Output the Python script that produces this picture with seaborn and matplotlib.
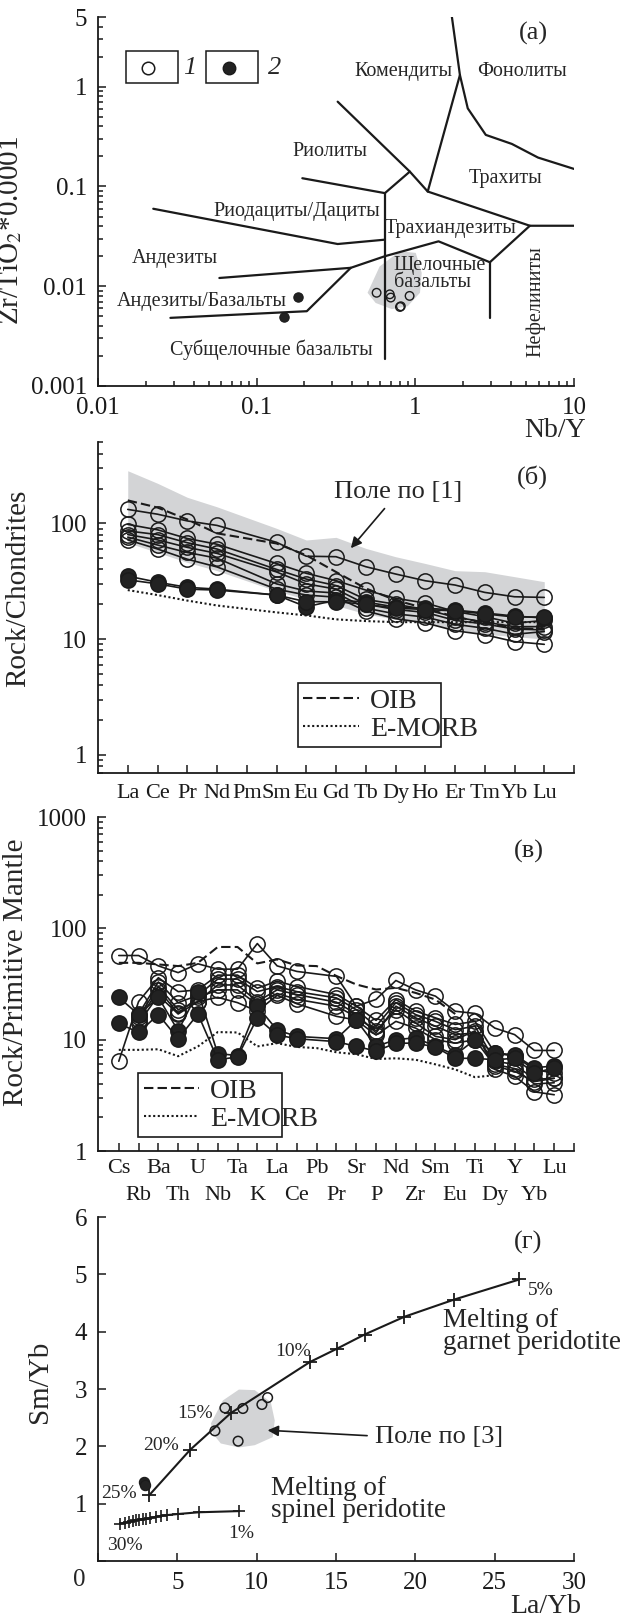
import numpy as np
import pandas as pd
import matplotlib
matplotlib.use("Agg")
import matplotlib.pyplot as plt
import seaborn as sns
from matplotlib.lines import Line2D
from matplotlib.patches import Rectangle
from matplotlib.ticker import NullFormatter

nan = np.nan

# ---- (а) Nb/Y vs Zr/TiO2*0.0001 ----
nby_open = [0.57, 0.69, 0.70, 0.92, 0.80, 0.81]
zrti_open = [0.0086, 0.0083, 0.0077, 0.0080, 0.0062, 0.0063]
nby_filled = [0.181, 0.149]
zrti_filled = [0.0078, 0.0049]
field_a_x = [0.50, 0.596, 0.798, 1.006, 1.097, 1.07, 0.895, 0.71, 0.562]
field_a_y = [0.0086, 0.0158, 0.0224, 0.0216, 0.0136, 0.0086, 0.0063, 0.0059, 0.0068]

# classification boundaries (Winchester & Floyd)
bnd_basalt = ([0.0286, 0.207, 0.392, 0.643, 1.40, 2.95, 5.27, 10], [0.00482, 0.00562, 0.0153, 0.0200, 0.0282, 0.0174, 0.0404, 0.0404])
bnd_andbas = ([0.0582, 0.392], [0.0121, 0.0153])
bnd_andes = ([0.0223, 0.324, 0.643], [0.0598, 0.0265, 0.0293])
bnd_rhyodac = ([0.194, 0.643, 0.923], [0.121, 0.0858, 0.141])
bnd_rhyol = ([0.324, 0.923, 1.197, 5.27], [0.708, 0.141, 0.089, 0.0404])
bnd_phon = ([1.70, 1.91, 1.197], [5.0, 1.31, 0.089])
bnd_trach = ([1.91, 2.14, 2.78, 4.06, 5.93, 10], [1.31, 0.607, 0.329, 0.267, 0.195, 0.150])
bnd_alkbas = ([0.643, 0.643], [0.0858, 0.00185])
bnd_neph = ([2.95, 2.95], [0.0174, 0.00482])

# ---- (б) REE / chondrite ----
ree = ["La", "Ce", "Pr", "Nd", "Pm", "Sm", "Eu", "Gd", "Tb", "Dy", "Ho", "Er", "Tm", "Yb", "Lu"]
ree_open = [
    [132, 120, 105, 96, nan, 68.6, 52, 51.5, 42.2, 36.5, 31.9, 29.3, 25.3, 23.2, 22.9],
    [98, 88, 74, 66, nan, 45, 37, 32, 26.5, 22.5, 20.5, 17.3, 15.6, 13.7, 14.5],
    [86, 80, 68, 60, nan, 40, 33, 29, 22, 20, 18, 15.5, 14, 12.8, 12.8],
    [80, 72, 62, 55, nan, 38, 30, 27, 20, 18, 17, 14.5, 13.5, 12.2, 12],
    [76, 65, 56, 50, nan, 30, 26, 25, 18.5, 16.5, 15.5, 13.4, 12.4, 11, 11.6],
    [72, 60, 49, 42, nan, 27, 24, 23, 17.5, 15, 13.8, 11.8, 10.9, 9.5, 9],
]
ree_filled = [
    [35, 31, 28, 27, nan, 24, 19, 21.7, 20.9, 18.9, 18.5, 17.8, 16.8, 15.8, 15.2],
    [32.5, 30, 27, 26.5, nan, 24, 21, 21, 20, 18.5, 18, 17.5, 16.5, 15.5, 15.5],
]
ree_oib = [158, 137, 108, 82, nan, 67, 53, 38, 27.4, 21.7, 18.4, 15.6, 13.8, 12.4, 12.2]
ree_emorb = [26.5, 24, 21.5, 19.5, nan, 17, 16, 14.8, 14.3, 14, 14, 14, 14, 14, 14]
ree_field_hi = [285, 222, 168, 139, nan, 90.6, 71.8, 75.7, 60.8, 51.5, 45, 39, 38.2, 34.6, 31.3]
ree_field_lo = [68, 56, 46, 39, nan, 26, 22, 19.5, 16.5, 14.8, 13.5, 12.2, 11, 10.5, 10]

# ---- (в) primitive mantle spider ----
pm = ["Cs", "Rb", "Ba", "Th", "U", "Nb", "Ta", "K", "La", "Ce", "Pb", "Pr",
      "Sr", "P", "Nd", "Zr", "Sm", "Eu", "Ti", "Dy", "Y", "Yb", "Lu"]
pm_open = [
    [57, 57, 46, 40, 48, 43, 43, 73, 46, 41, nan, 37, 20, 23, 34, 28, 24.6, 18, 17.2, 12.7, 11.1, 8, 8],
    [6.4, 22, 36, 27, 28, 38, 38, 29, 33.5, 30, nan, 25.4, 20, 14.9, 22.9, 18, 15.7, 13.7, 14.6, 7.6, 7.1, 5.4, 5.0],
    [nan, 17, 33, 21.5, 25, 35, 35, 27, 30, 27, nan, 23.7, 18.6, 13.2, 21.5, 16.8, 14.6, 12.3, 13.2, 6.4, 6.0, 4.4, 4.5],
    [nan, 16, 30, 18.6, 22, 31, 31, 22, 28, 25.4, nan, 21.7, 17, 11.5, 20, 15.7, 13.2, 11.1, 11.5, 6.0, 5.5, 4.0, 4.1],
    [nan, 15, 28, 17.3, 24, 28, 28, 20.7, 26, 23, nan, 20, 16, 12, 18.6, 14.1, 10.7, 10, 12, 5.4, 4.7, 3.4, 3.2],
    [nan, 14, 25, 17, 22, 24, 21.5, 18, 25, 21, nan, 16.2, 15, 11, 14.6, 12.7, 10, 9.3, 10, 5.8, 5.2, 4.2, 4.5],
]
pm_filled = [
    [24, 16.8, 24, 12, 27, 7.5, 7.2, 20, 12.2, 10.7, nan, 10.2, 15, 8.7, 10, 10.4, 8.7, 7.3, 10, 7.6, 7.3, 5.6, 5.8],
    [14, 11.6, 16.8, 10.2, 17, 6.6, 7.0, 15.7, 11, 10.2, nan, 9.6, 8.7, 7.9, 9.3, 9.3, 8.6, 6.8, 6.8, 6.6, 6.8, 5.0, 5.6],
]
pm_oib = [49, 49, 47.4, 45.8, 49, 68, 68, 48.4, 52.6, 46.4, 45.8, 37.3, 31.3, 28.2, 29.2, 26.3, 22.9, 17, nan, nan, nan, nan, nan]
pm_emorb = [8.1, 8.1, 8.2, 7.1, 8.7, 11.7, 11.6, 8.7, 9.3, 8.6, 8.4, 7.7, 7.4, 6.7, 6.8, 6.6, 6.0, 5.4, 4.6, 4.8, nan, nan, nan]

# ---- (г) La/Yb vs Sm/Yb ----
grt_la = [26.55, 22.45, 19.31, 16.8, 15.04, 13.35, 8.37, 5.81, 3.22]
grt_sm = [4.91, 4.56, 4.26, 3.95, 3.70, 3.47, 2.58, 1.94, 1.145]
spl_la = [8.88, 6.36, 5.06, 4.33, 4.00, 3.65, 3.28, 3.02, 2.82, 2.60, 2.39, 2.19, 1.97, 1.70, 1.40]
spl_sm = [0.87, 0.85, 0.82, 0.80, 0.79, 0.77, 0.75, 0.74, 0.73, 0.72, 0.71, 0.70, 0.68, 0.67, 0.65]
lay_open = [7.37, 8.0, 9.13, 8.83, 10.33, 10.69]
smy_open = [2.27, 2.67, 2.66, 2.09, 2.73, 2.85]
lay_filled = [2.89, 2.97]
smy_filled = [1.38, 1.32]
field_d_x = [7.12, 7.87, 8.88, 9.88, 10.89, 11.14, 11.01, 9.88, 8.88, 7.74, 7.24]
field_d_y = [2.40, 2.80, 2.99, 2.98, 2.77, 2.45, 2.16, 2.02, 1.98, 2.05, 2.22]


sns.set_theme(style="ticks")
plt.rcParams["font.family"] = ["Liberation Serif", "DejaVu Serif"]
plt.rcParams["mathtext.fontset"] = "stix"

GREY = "#d3d4d6"
FILL = "#222222"
TICK = 18
LAB = 21

W, H = 624, 1620
fig = plt.figure(figsize=(W / 100, H / 100), dpi=100)


def rect(l, t, r, b):
    return [l / W, 1 - b / H, (r - l) / W, (b - t) / H]


def style(ax):
    sns.despine(ax=ax)
    for s in ("left", "bottom"):
        ax.spines[s].set_linewidth(1.3)
        ax.spines[s].set_color("k")
    ax.tick_params(which="both", direction="in", width=1.1, color="k",
                   labelsize=TICK, labelcolor="k", pad=8)
    ax.tick_params(which="major", length=6)
    ax.tick_params(which="minor", length=3.5)


def long_df(series):
    rows = [(i, j, v) for i, vals in enumerate(series) for j, v in enumerate(vals)]
    return pd.DataFrame(rows, columns=["sample", "pos", "val"])


def spider(ax, series, filled, ms=11):
    sns.lineplot(data=long_df(series), x="pos", y="val", units="sample",
                 estimator=None, errorbar=None, ax=ax, color="k", lw=1.2,
                 marker="o", ms=ms, mfc=FILL if filled else "none",
                 mec="k", mew=1.1)


def ref_line(ax, vals, ls):
    sns.lineplot(x=np.arange(len(vals)), y=vals, ax=ax, color="k", lw=1.5,
                 linestyle=ls, errorbar=None)


def ref_legend(ax, anchor):
    h = [Line2D([], [], color="k", lw=1.5, linestyle=(0, (4.5, 2))),
         Line2D([], [], color="k", lw=1.5, linestyle=(0, (1, 1.2)))]
    leg = ax.legend(h, ["OIB", "E-MORB"], loc="center", bbox_to_anchor=anchor,
                    mode="expand", fontsize=20, frameon=True, fancybox=False,
                    edgecolor="k", framealpha=1, handlelength=2.0,
                    handletextpad=0.4, borderpad=0.2, labelspacing=0.1)
    leg.get_frame().set_linewidth(1.2)


# ================= (а) =================
ax = fig.add_axes(rect(98, 17, 574, 386))
ax.set_xscale("log")
ax.set_yscale("log")
ax.fill(field_a_x, field_a_y, color=GREY, lw=0, zorder=0)
for xs, ys in (bnd_basalt, bnd_andbas, bnd_andes, bnd_rhyodac, bnd_rhyol,
               bnd_phon, bnd_trach, bnd_alkbas, bnd_neph):
    ax.plot(xs, ys, color="k", lw=1.6)
sns.scatterplot(x=nby_open, y=zrti_open, ax=ax, s=38, marker="o",
                facecolor="none", edgecolor="k", linewidth=1.0, zorder=3)
sns.scatterplot(x=nby_filled, y=zrti_filled, ax=ax, s=45, marker="o",
                color=FILL, edgecolor="k", linewidth=0.8, zorder=3)
ax.set_xlim(0.01, 10)
ax.set_ylim(0.001, 5)
style(ax)
ax.set_xticks([0.01, 0.1, 1, 10], ["0.01", "0.1", "1", "10"])
ax.set_yticks([0.001, 0.01, 0.1, 1, 5], ["0.001", "0.01", "0.1", "1", "5"])
ax.xaxis.set_minor_formatter(NullFormatter())
ax.yaxis.set_minor_formatter(NullFormatter())
ax.set_ylabel("Zr/TiO$_2$*0.0001", fontsize=LAB)
ax.yaxis.set_label_coords(-0.155, 0.423)
ax.set_xlabel("Nb/Y", fontsize=20, ha="right", va="top")
ax.xaxis.set_label_coords(1.025, -0.088)

RL = 14.5
for txt, x, y in [("Комендиты", 0.845, 1.41), ("Фонолиты", 4.70, 1.41),
                  ("Риолиты", 0.288, 0.224), ("Трахиты", 3.72, 0.119),
                  ("Риодациты/Дациты", 0.178, 0.0562), ("Трахиандезиты", 1.68, 0.0377),
                  ("Андезиты", 0.0307, 0.0188), ("Андезиты/Базальты", 0.0449, 0.00708),
                  ("Субщелочные базальты", 0.124, 0.00233)]:
    ax.text(x, y, txt, ha="center", va="center", fontsize=RL)
ax.text(0.731, 0.0133, "Щелочные\nбазальты", ha="left", va="center",
        fontsize=RL, linespacing=0.9)
ax.text(5.75, 0.0071, "Нефелиниты", ha="center", va="center", fontsize=RL, rotation=90)
ax.text(5.59, 3.42, "(а)", ha="center", va="center", fontsize=19)

# legend boxes 1 / 2
for x0 in (0.0588, 0.227):
    ax.add_patch(Rectangle((x0, 0.821), 0.109, 0.0867, transform=ax.transAxes,
                           fill=False, lw=1.1, ec="k", clip_on=False))
ax.plot([0.105], [0.862], "o", ms=9, mfc="none", mec="k", mew=1.1, transform=ax.transAxes)
ax.plot([0.275], [0.862], "o", ms=9, mfc=FILL, mec="k", mew=1.0, transform=ax.transAxes)
ax.text(0.193, 0.862, "1", style="italic", fontsize=19, ha="center", va="center", transform=ax.transAxes)
ax.text(0.370, 0.862, "2", style="italic", fontsize=19, ha="center", va="center", transform=ax.transAxes)

# ================= (б) =================
ax = fig.add_axes(rect(98, 442, 574, 773))
ax.set_yscale("log")
xr = np.arange(len(ree))
ok = ~np.isnan(np.array(ree_field_hi))
ax.fill_between(xr[ok], np.array(ree_field_lo)[ok], np.array(ree_field_hi)[ok],
                color=GREY, lw=0, zorder=0)
ref_line(ax, ree_oib, (0, (4.5, 2)))
ref_line(ax, ree_emorb, (0, (1, 1.2)))
spider(ax, ree_open, False)
spider(ax, ree_filled, True)
ax.set_xlim(-1, 15)
ax.set_ylim(0.695, 505)
style(ax)
ax.set_xticks(np.arange(16), ree + [""])
ax.set_yticks([1, 10, 100], ["1", "10", "100"])
ax.yaxis.set_minor_formatter(NullFormatter())
ax.tick_params(axis="x", labelsize=16, pad=8)
ax.set_xlabel("")
ax.set_ylabel("Rock/Chondrites", fontsize=LAB)
ax.yaxis.set_label_coords(-0.141, 0.559)
ax.text(13.6, 251, "(б)", ha="center", va="center", fontsize=19)
ax.annotate("Поле по [1]", xy=(7.5, 61), xytext=(9.1, 186), ha="center", va="center",
            fontsize=19, arrowprops=dict(arrowstyle="-|>", color="k", lw=1.2,
                                         mutation_scale=16, shrinkA=2, shrinkB=0))
ref_legend(ax, (0.39, 0.085, 0.36, 0.181))

# ================= (в) =================
ax = fig.add_axes(rect(98, 817, 574, 1151))
ax.set_yscale("log")
ref_line(ax, pm_oib, (0, (4.5, 2)))
ref_line(ax, pm_emorb, (0, (1, 1.2)))
spider(ax, pm_open, False)
spider(ax, pm_filled, True)
ax.set_xlim(-1.05, 23)
ax.set_ylim(1, 1000)
style(ax)
ax.set_yticks([1, 10, 100, 1000], ["1", "10", "100", "1000"])
ax.yaxis.set_minor_formatter(NullFormatter())
# even elements on the upper row (major ticks), odd ones on the lower row (minor ticks)
pos = np.arange(24)
names = pm + [""]
ax.set_xticks(pos[::2], names[::2])
ax.set_xticks(pos[1::2], names[1::2], minor=True)
ax.tick_params(axis="x", which="major", labelsize=16, pad=6, length=6)
ax.tick_params(axis="x", which="minor", labelsize=16, pad=25, length=6)
ax.set_xlabel("")
ax.set_ylabel("Rock/Primitive Mantle", fontsize=LAB)
ax.yaxis.set_label_coords(-0.145, 0.536)
ax.text(20.7, 493, "(в)", ha="center", va="center", fontsize=19)
ref_legend(ax, (0.055, 0.048, 0.361, 0.18))

# ================= (г) =================
ax = fig.add_axes(rect(98, 1217, 574, 1561))
ax.fill(field_d_x, field_d_y, color=GREY, lw=0, zorder=0)
sns.lineplot(x=grt_la, y=grt_sm, sort=False, ax=ax, color="k", lw=1.5,
             marker="+", ms=10, mew=1.3, mec="k", errorbar=None)
sns.lineplot(x=spl_la, y=spl_sm, sort=False, ax=ax, color="k", lw=1.5,
             marker="+", ms=9, mew=1.2, mec="k", errorbar=None)
sns.scatterplot(x=lay_open, y=smy_open, ax=ax, s=48, marker="o",
                facecolor="none", edgecolor="k", linewidth=1.1, zorder=3)
sns.scatterplot(x=lay_filled, y=smy_filled, ax=ax, s=55, marker="o",
                color=FILL, edgecolor="k", linewidth=0.8, zorder=3)
ax.set_xlim(0, 30)
ax.set_ylim(0, 6)
style(ax)
ax.set_xticks(np.arange(0, 31, 5), [""] + [str(v) for v in range(5, 31, 5)])
ax.set_yticks(np.arange(0, 7), [""] + [str(v) for v in range(1, 7)])
ax.annotate("0", xy=(0, 0), xycoords="axes fraction", xytext=(-19, -19),
            textcoords="offset pixels", ha="center", va="center", fontsize=TICK)
ax.set_ylabel("Sm/Yb", fontsize=LAB)
ax.yaxis.set_label_coords(-0.095, 0.52)
ax.set_xlabel("La/Yb", fontsize=20, ha="right", va="top")
ax.xaxis.set_label_coords(1.015, -0.095)

PC = 14
for txt, x, y, ha in [("5%", 27.1, 4.72, "left"), ("10%", 12.27, 3.65, "center"),
                      ("15%", 6.11, 2.58, "center"), ("20%", 3.97, 2.02, "center"),
                      ("25%", 1.33, 1.17, "center"), ("30%", 1.71, 0.27, "center"),
                      ("1%", 9.0, 0.48, "center")]:
    ax.text(x, y, txt, ha=ha, va="center", fontsize=PC)
ax.text(21.75, 4.01, "Melting of\ngarnet peridotite", ha="left", va="center",
        fontsize=19.5, linespacing=0.85)
ax.text(10.89, 1.07, "Melting of\nspinel peridotite", ha="left", va="center",
        fontsize=19.5, linespacing=0.85)
ax.annotate("Поле по [3]", xy=(10.69, 2.28), xytext=(17.43, 2.16), ha="left", va="center",
            fontsize=19, arrowprops=dict(arrowstyle="-|>", color="k", lw=1.2,
                                         mutation_scale=16, shrinkA=3, shrinkB=0,
                                         relpos=(0, 0.55)))
ax.text(27.1, 5.56, "(г)", ha="center", va="center", fontsize=19)

fig.savefig("out.png", dpi=100)
